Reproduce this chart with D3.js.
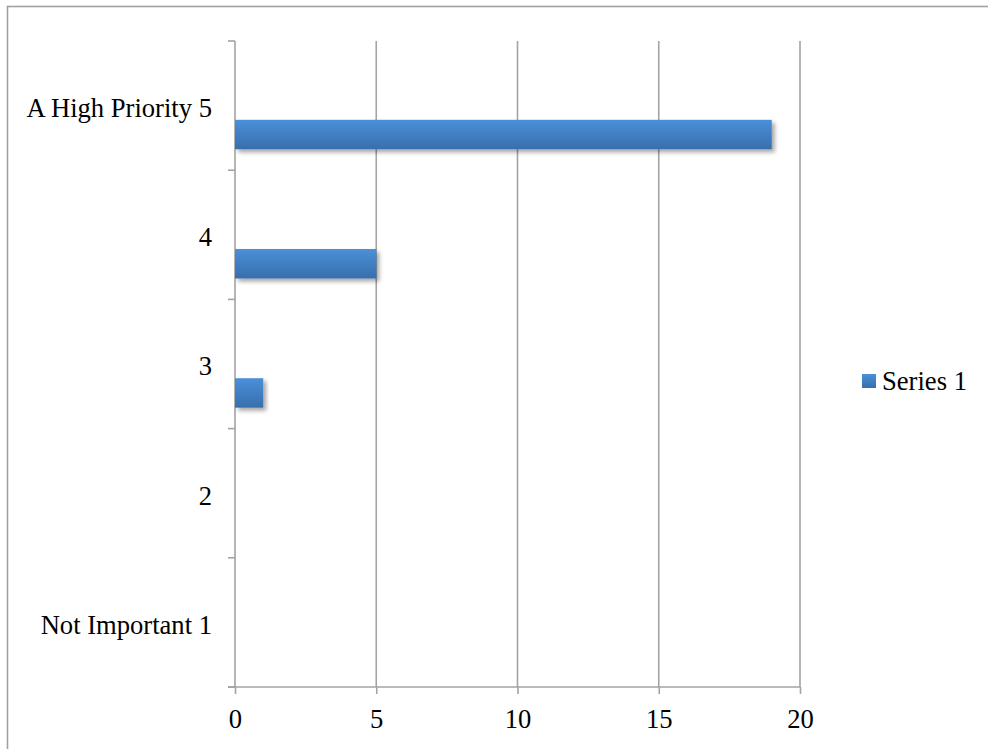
<!DOCTYPE html>
<html>
<head>
<meta charset="utf-8">
<script src="https://cdn.jsdelivr.net/npm/d3@7"></script>
<style>
  html, body { margin: 0; padding: 0; background: #fff; }
  svg { display: block; }
</style>
</head>
<body>
<svg id="chart" width="988" height="749"></svg>
<script>
// Priority ratings, bottom to top
const categories = ["Not Important 1", "2", "3", "4", "A High Priority 5"];
const seriesName = "Series 1";
const values = [0, 0, 1, 5, 19];
const xTicks = [0, 5, 10, 15, 20];

const svg = d3.select("#chart");
const W = 988, H = 749;
const plot = { left: 235, right: 800, top: 41, bottom: 687 };
const font = "'Liberation Serif', 'Times New Roman', serif";
const fontSize = 26.6;
const gridColor = "#a3a3a3";

// Chart-area frame (runs off the right and bottom edges)
svg.append("rect")
  .attr("x", 7.5).attr("y", 6.5)
  .attr("width", W + 20).attr("height", H + 20)
  .attr("fill", "none").attr("stroke", "#a0a0a0").attr("stroke-width", 1.6);

const x = d3.scaleLinear().domain([0, 20]).range([plot.left, plot.right]);
const y = d3.scaleBand()
  .domain(categories.slice().reverse())
  .range([plot.top, plot.bottom])
  .paddingInner(0).paddingOuter(0);

const defs = svg.append("defs");
const grad = defs.append("linearGradient")
  .attr("id", "barFill").attr("x1", 0).attr("y1", 0).attr("x2", 0).attr("y2", 1);
grad.append("stop").attr("offset", "0%").attr("stop-color", "#4a90d8");
grad.append("stop").attr("offset", "100%").attr("stop-color", "#386ead");

const shadow = defs.append("filter").attr("id", "barShadow")
  .attr("x", "-10%").attr("y", "-30%").attr("width", "130%").attr("height", "190%");
shadow.append("feGaussianBlur").attr("in", "SourceAlpha").attr("stdDeviation", 2.2).attr("result", "blur");
shadow.append("feOffset").attr("in", "blur").attr("dx", 2.5).attr("dy", 3).attr("result", "off");
shadow.append("feComponentTransfer").attr("in", "off").attr("result", "soft")
  .append("feFuncA").attr("type", "linear").attr("slope", 0.35);
const merge = shadow.append("feMerge");
merge.append("feMergeNode").attr("in", "soft");
merge.append("feMergeNode").attr("in", "SourceGraphic");

// Vertical gridlines
svg.append("g")
  .selectAll("line")
  .data(xTicks.filter(t => t > 0))
  .join("line")
  .attr("x1", d => x(d)).attr("x2", d => x(d))
  .attr("y1", plot.top).attr("y2", plot.bottom)
  .attr("stroke", gridColor).attr("stroke-width", 1.6);

// X axis
const xAxis = svg.append("g")
  .attr("transform", `translate(0,${plot.bottom})`)
  .call(d3.axisBottom(x).tickValues(xTicks).tickSize(7).tickSizeOuter(0).tickPadding(15));
xAxis.select(".domain").remove();
xAxis.append("line")
  .attr("x1", plot.left - 7).attr("x2", plot.right)
  .attr("stroke", gridColor).attr("stroke-width", 1.6);
xAxis.selectAll(".tick line").attr("stroke", gridColor).attr("stroke-width", 1.6);
xAxis.selectAll(".tick text")
  .attr("font-family", font).attr("font-size", fontSize).attr("fill", "#000");

// Y axis: ticks sit on the category boundaries, labels in the band middle
const yAxis = svg.append("g").attr("transform", `translate(${plot.left},0)`);
yAxis.append("line")
  .attr("y1", plot.top).attr("y2", plot.bottom)
  .attr("stroke", gridColor).attr("stroke-width", 1.6);
const boundaries = y.domain().map(c => y(c)).concat([plot.bottom]);
yAxis.selectAll("line.tick")
  .data(boundaries)
  .join("line").attr("class", "tick")
  .attr("x1", -7).attr("x2", 0)
  .attr("y1", d => d).attr("y2", d => d)
  .attr("stroke", gridColor).attr("stroke-width", 1.6);
yAxis.selectAll("text")
  .data(categories)
  .join("text")
  .attr("x", -23)
  .attr("y", d => y(d) + y.bandwidth() / 2 + 2)
  .attr("dy", "0.35em")
  .attr("text-anchor", "end")
  .attr("font-family", font).attr("font-size", fontSize).attr("fill", "#000")
  .text(d => d);

// Bars
const barOffset = y.bandwidth() * 0.61;
const barHeight = y.bandwidth() * 0.228;
svg.append("g")
  .selectAll("rect")
  .data(categories.map((c, i) => ({ c, v: values[i] })))
  .join("rect")
  .attr("x", x(0))
  .attr("y", d => y(d.c) + barOffset)
  .attr("width", d => x(d.v) - x(0))
  .attr("height", barHeight)
  .attr("fill", "url(#barFill)")
  .attr("filter", "url(#barShadow)");

// Legend
const legend = svg.append("g").attr("transform", "translate(862,374)");
legend.append("rect")
  .attr("width", 14).attr("height", 14)
  .attr("fill", "url(#barFill)");
legend.append("text")
  .attr("x", 20).attr("y", 7).attr("dy", "0.35em")
  .attr("font-family", font).attr("font-size", fontSize).attr("fill", "#000")
  .text(seriesName);
</script>
</body>
</html>
